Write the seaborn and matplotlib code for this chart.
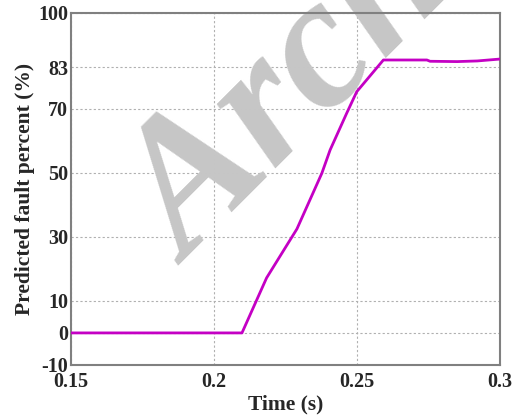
import numpy as np
import pandas as pd
import seaborn as sns
import matplotlib.pyplot as plt

# values
time_s = [0.15, 0.2098, 0.2184, 0.229, 0.2377, 0.2406, 0.2464, 0.2499, 0.2592,
          0.2744, 0.2755, 0.285, 0.292, 0.3]
fault_pct = [0, 0, 17.2, 32.5, 49.9, 57.2, 68.7, 75.4, 85.3,
             85.3, 84.9, 84.8, 85.0, 85.6]
y_ticks = [-10, 0, 10, 30, 50, 70, 83, 100]
x_ticks = [0.15, 0.2, 0.25, 0.3]
x_labels = ['0.15', '0.2', '0.25', '0.3']

df = pd.DataFrame({'time': time_s, 'fault': fault_pct})

sns.set_style('white')
plt.rcParams['font.family'] = ['Liberation Serif', 'DejaVu Serif']
plt.rcParams['font.weight'] = 'bold'
plt.rcParams['axes.unicode_minus'] = False

fig = plt.figure(figsize=(5.13, 4.18), dpi=100)
ax = fig.add_axes([0.138, 0.127, 0.837, 0.842])

sns.lineplot(data=df, x='time', y='fault', color='#c400c4', linewidth=2.0,
             ax=ax, zorder=3)

ax.set_xlim(0.15, 0.3)
ax.set_ylim(-10, 100)
ax.set_xticks(x_ticks)
ax.set_xticklabels(x_labels)
ax.set_yticks(y_ticks)
ax.grid(True, color='#b0b0b0', linestyle=(0, (2, 2)), linewidth=0.8)
ax.tick_params(direction='in', length=3, labelsize=14.5, color='#555555')
ax.tick_params(axis='x', pad=5)
ax.tick_params(axis='y', pad=2)
for lab in ax.get_xticklabels() + ax.get_yticklabels():
    lab.set_fontweight('bold')
for s in ax.spines.values():
    s.set_color('#808080')
    s.set_linewidth(1.5)

ax.set_xlabel('Time (s)', fontsize=15.5, fontweight='bold', labelpad=2)
ax.set_ylabel('Predicted fault percent (%)', fontsize=15.5, fontweight='bold',
              labelpad=2)

# watermark (pixel position from the bottom-left corner)
ax.text(188, 152, 'Archive', transform=None, fontsize=135, fontweight='bold',
        fontstyle='italic', color='#c6c6c6', rotation=45,
        rotation_mode='anchor', ha='left', va='baseline', zorder=2,
        clip_on=False)

fig.savefig('out.png', dpi=100)
